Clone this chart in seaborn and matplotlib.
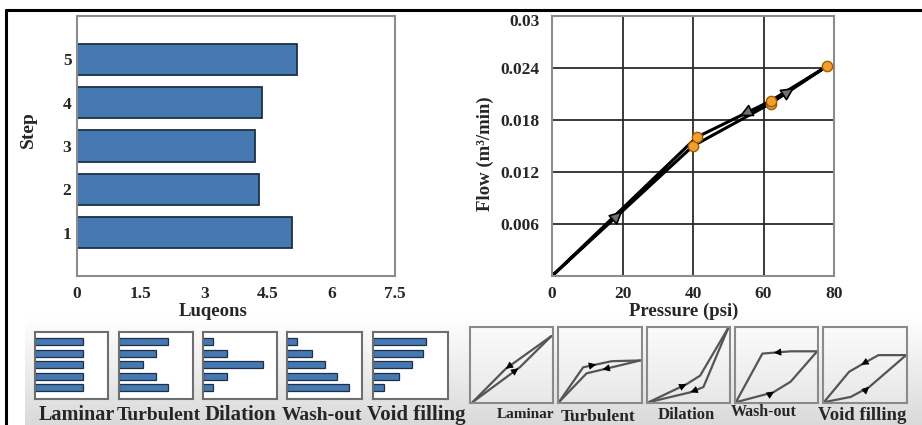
import numpy as np
import matplotlib
matplotlib.use("Agg")
import matplotlib.pyplot as plt
import matplotlib.transforms as mtransforms
import seaborn as sns
from matplotlib.lines import Line2D
from matplotlib.colors import LinearSegmentedColormap

# ---------------- data ----------------
steps = [1, 2, 3, 4, 5]
lugeons = [5.06, 4.30, 4.20, 4.36, 5.19]
lugeon_ticks = [0, 1.5, 3, 4.5, 6, 7.5]
lugeon_tick_labels = ["0", "1.5", "3", "4.5", "6", "7.5"]

# pressure path: loading 0 -> step 1..3, unloading step 4..5 and back to 0
pressure = [0, 40, 62, 78, 62, 41, 0]
flow = [0, 0.0150, 0.0199, 0.0242, 0.0202, 0.0160, 0]
pressure_ticks = [0, 20, 40, 60, 80]
flow_ticks = [0, 0.006, 0.012, 0.018, 0.024, 0.03]
flow_tick_labels = ["", "0.006", "0.012", "0.018", "0.024", "0.03"]

pattern_names = ["Laminar", "Turbulent", "Dilation", "Wash-out", "Void filling"]

# relative Lugeon value per step (step 1 .. step 5) for each behaviour pattern
laminar_lu = [0.66, 0.66, 0.66, 0.66, 0.66]
turbulent_lu = [0.66, 0.50, 0.32, 0.50, 0.66]
dilation_lu = [0.13, 0.33, 0.81, 0.33, 0.13]
washout_lu = [0.82, 0.67, 0.51, 0.33, 0.13]
voidfill_lu = [0.15, 0.34, 0.52, 0.67, 0.70]
pattern_lu = [laminar_lu, turbulent_lu, dilation_lu, washout_lu, voidfill_lu]

# schematic pressure-flow loops (normalised), two branches per pattern
laminar_a = ([0.03, 0.43, 0.98], [0.01, 0.45, 0.88])
laminar_b = ([0.03, 0.60, 0.98], [0.01, 0.47, 0.88])
turbulent_a = ([0.01, 0.30, 0.64, 0.98], [0.01, 0.47, 0.55, 0.56])
turbulent_b = ([0.01, 0.34, 0.98], [0.01, 0.39, 0.56])
dilation_a = ([0.02, 0.48, 0.64, 0.98], [0.01, 0.25, 0.36, 0.99])
dilation_b = ([0.02, 0.52, 0.68, 0.98], [0.01, 0.14, 0.21, 0.99])
washout_a = ([0.01, 0.33, 0.67, 0.99], [0.01, 0.65, 0.68, 0.68])
washout_b = ([0.01, 0.46, 0.67, 0.99], [0.01, 0.14, 0.28, 0.68])
voidfill_a = ([0.01, 0.31, 0.45, 0.66, 0.99], [0.01, 0.41, 0.50, 0.63, 0.63])
voidfill_b = ([0.01, 0.33, 0.55, 0.99], [0.01, 0.08, 0.21, 0.63])
pattern_loops = [(laminar_a, laminar_b), (turbulent_a, turbulent_b),
                 (dilation_a, dilation_b), (washout_a, washout_b),
                 (voidfill_a, voidfill_b)]
# arrow on each branch: (position along branch, direction)
loop_arrows = [((0.46, -1), (0.55, 1)), ((0.57, 1), (0.60, -1)),
               ((0.36, 1), (0.34, -1)), ((0.62, -1), (0.39, 1)),
               ((0.54, -1), (0.49, 1))]

# arrows on the main curve: (segment index, fraction along segment)
main_arrows = [(0, 0.50), (4, 0.42), (2, 0.42)]

# ---------------- style ----------------
sns.set_style("white")
plt.rcParams["font.family"] = ["Liberation Serif", "DejaVu Serif"]
plt.rcParams["font.weight"] = "bold"

BAR = "#4679b2"
BAR_EDGE = "#1d3047"
SPINE = "#8c8c8c"
ORANGE = "#f0a030"

W, H = 922, 425
fig = plt.figure(figsize=(W / 100, H / 100), dpi=100)


def px_axes(x0, y0, x1, y1, **kw):
    return fig.add_axes([x0 / W, 1 - y1 / H, (x1 - x0) / W, (y1 - y0) / H], **kw)


def along(xs, ys, s):
    xs, ys = np.asarray(xs, float), np.asarray(ys, float)
    seg = np.hypot(np.diff(xs), np.diff(ys))
    cum = np.concatenate([[0], np.cumsum(seg)])
    d = s * cum[-1]
    i = int(min(np.searchsorted(cum, d, side="right") - 1, len(seg) - 1))
    f = (d - cum[i]) / seg[i]
    p = np.array([xs[i] + f * (xs[i + 1] - xs[i]), ys[i] + f * (ys[i + 1] - ys[i])])
    q = np.array([xs[i + 1], ys[i + 1]])
    r = np.array([xs[i], ys[i]])
    return p, r, q


def head(ax, p, a, b, shaft, scale, fc, ec, lw):
    """Arrow head at p pointing from a towards b (display-space direction)."""
    da = ax.transData.transform(a)
    db = ax.transData.transform(b)
    u = (db - da) / np.hypot(*(db - da))
    ax.annotate("", xy=p, xycoords="data", xytext=tuple(-u * shaft),
                textcoords="offset pixels",
                arrowprops=dict(arrowstyle="-|>", mutation_scale=scale, fc=fc,
                                ec=ec, lw=lw, shrinkA=0, shrinkB=0),
                zorder=6)


# light gradient strip behind the pattern legend
bg = px_axes(25, 316, 922, 425, zorder=0)
grad = np.linspace(0, 1, 100).reshape(-1, 1)
bg.imshow(grad, aspect="auto", extent=[0, 1, 0, 1],
          cmap=LinearSegmentedColormap.from_list("strip", ["#ffffff", "#dadada"]))
bg.axis("off")

# ---------------- Lugeon bar chart ----------------
axL = px_axes(77, 16, 395, 276, zorder=2)
sns.barplot(x=lugeons, y=steps, orient="h", native_scale=True, color=BAR,
            saturation=1, width=0.72, edgecolor=BAR_EDGE, linewidth=1.3,
            errorbar=None, ax=axL)
axL.set_xlim(0, 7.5)
axL.set_ylim(0, 6)
axL.set_xticks(lugeon_ticks)
axL.set_xticklabels(lugeon_tick_labels)
axL.set_yticks(steps)
axL.set_yticklabels([str(s) for s in steps])
axL.tick_params(axis="x", length=5, width=1.3, color=SPINE, pad=2, labelsize=12.5)
axL.tick_params(axis="y", length=0, pad=4, labelsize=12.5)
for sp in axL.spines.values():
    sp.set_color(SPINE)
    sp.set_linewidth(1.5)
axL.set_xlabel("Luqeons", fontsize=13.5, fontweight="bold")
axL.set_ylabel("Step", fontsize=14, fontweight="bold")
axL.xaxis.label.set_va("center")
axL.yaxis.label.set_va("center")
axL.xaxis.set_label_coords((213 - 77) / 318, (276 - 311) / 260)
axL.yaxis.set_label_coords((28 - 77) / 318, (276 - 130) / 260)

# ---------------- pressure-flow chart ----------------
axR = px_axes(552, 16, 834, 276, zorder=2)
sns.lineplot(x=pressure, y=flow, sort=False, estimator=None, color="black",
             lw=2.2, ax=axR)
sns.scatterplot(x=pressure[1:6], y=flow[1:6], s=55, color=ORANGE,
                edgecolor="#a35a00", linewidth=1.0, zorder=5, ax=axR)
axR.set_xlim(0, 80)
axR.set_ylim(0, 0.03)
for i, f in main_arrows:
    a = (pressure[i], flow[i])
    b = (pressure[i + 1], flow[i + 1])
    p = (a[0] + f * (b[0] - a[0]), a[1] + f * (b[1] - a[1]))
    head(axR, p, a, b, shaft=16, scale=20, fc="#707070", ec="black", lw=1.2)
axR.set_xticks(pressure_ticks)
axR.set_yticks(flow_ticks)
axR.set_yticklabels(flow_tick_labels)
axR.grid(True, color="#2b2b2b", lw=1.3)
axR.set_axisbelow(True)
axR.tick_params(axis="both", length=0, labelsize=12.5)
axR.tick_params(axis="x", pad=7)
axR.tick_params(axis="y", pad=9)
# the top flow label sits a little below the frame edge
top_label = axR.get_yticklabels()[-1]
top_label.set_transform(top_label.get_transform() +
                        mtransforms.ScaledTranslation(0, -3 / 72, fig.dpi_scale_trans))
for sp in axR.spines.values():
    sp.set_color(SPINE)
    sp.set_linewidth(1.5)
axR.set_xlabel("Pressure (psi)", fontsize=13.5, fontweight="bold")
axR.set_ylabel("Flow (m\u00b3/min)", fontsize=13.5, fontweight="bold")
axR.xaxis.label.set_va("center")
axR.yaxis.label.set_va("center")
axR.xaxis.set_label_coords((684 - 552) / 282, (276 - 311) / 260)
axR.yaxis.set_label_coords((485 - 552) / 282, (276 - 154) / 260)

# ---------------- pattern legend: Lugeon bars ----------------
bar_boxes = [(35, 332, 108, 399), (119, 332, 193, 399), (203, 332, 277, 399),
             (287, 332, 362, 399), (373, 332, 448, 399)]
bar_label_x = [77, 159, 240, 322, 416]
bar_label_size = [14.5, 14, 15, 14, 15]
for box, vals, name, lx, fs in zip(bar_boxes, pattern_lu, pattern_names,
                                   bar_label_x, bar_label_size):
    ax = px_axes(*box, zorder=3)
    sns.barplot(x=vals, y=steps, orient="h", native_scale=True, color=BAR,
                saturation=1, width=0.62, edgecolor=BAR_EDGE, linewidth=0.9,
                errorbar=None, ax=ax)
    ax.set_xlim(0, 1)
    ax.set_ylim(0, 5.85)
    ax.set_xticks([])
    ax.set_yticks([])
    ax.set_xlabel("")
    ax.set_ylabel("")
    ax.set_facecolor("white")
    for sp in ax.spines.values():
        sp.set_color("#6e6e6e")
        sp.set_linewidth(1.5)
    fig.text(lx / W, 1 - 415 / H, name, ha="center", va="center",
             fontsize=fs, fontweight="bold", zorder=4)

# ---------------- pattern legend: pressure-flow loops ----------------
loop_boxes = [(470, 327, 553, 403), (558, 327, 642, 403), (647, 327, 730, 403),
              (735, 327, 818, 403), (823, 327, 907, 403)]
loop_label_pos = [(526, 415), (598, 417), (686, 415), (764, 412), (862, 415)]
loop_label_size = [11, 12.5, 12, 11.5, 13.5]
cmap_panel = LinearSegmentedColormap.from_list("panel", ["#fbfbfb", "#e8e8e8"])
for box, loops, arrs, name, (lx, ly), fs in zip(loop_boxes, pattern_loops, loop_arrows,
                                                 pattern_names, loop_label_pos,
                                                 loop_label_size):
    ax = px_axes(*box, zorder=3)
    ax.imshow(grad, aspect="auto", extent=[0, 1, 0, 1], cmap=cmap_panel, zorder=0)
    ax.set_xlim(0, 1)
    ax.set_ylim(0, 1)
    for (xs, ys), (s, sign) in zip(loops, arrs):
        sns.lineplot(x=xs, y=ys, sort=False, estimator=None, color="#555555",
                     lw=1.6, ax=ax)
        p, r, q = along(xs, ys, s)
        a, b = (r, q) if sign > 0 else (q, r)
        head(ax, p, a, b, shaft=7, scale=11, fc="black", ec="black", lw=0.6)
    ax.set_xlim(0, 1)
    ax.set_ylim(0, 1)
    ax.set_xticks([])
    ax.set_yticks([])
    ax.set_xlabel("")
    ax.set_ylabel("")
    for sp in ax.spines.values():
        sp.set_color("#8a8a8a")
        sp.set_linewidth(1.5)
    fig.text(lx / W, 1 - ly / H, name, ha="center", va="center",
             fontsize=fs, fontweight="bold", zorder=4)

# outer frame
fig.add_artist(Line2D([6 / W, 1.0], [1 - 10 / H, 1 - 10 / H], color="black",
                      lw=2.2, transform=fig.transFigure))
fig.add_artist(Line2D([6 / W, 6 / W], [0.0, 1 - 10 / H], color="black",
                      lw=2.2, transform=fig.transFigure))

fig.savefig("out.png", dpi=100)
